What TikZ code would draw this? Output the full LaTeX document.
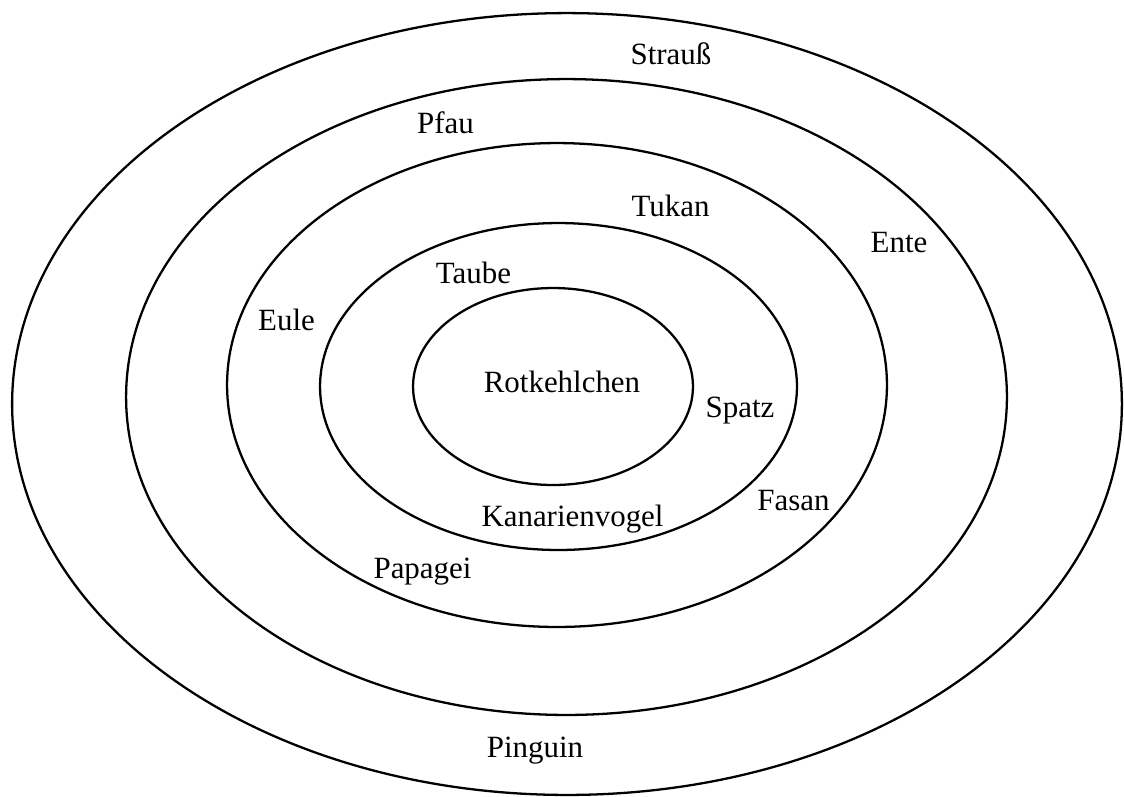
\documentclass[tikz,border=0pt]{standalone}
\usepackage{fontspec}
\setmainfont{Liberation Serif}
\usetikzlibrary{positioning}

\begin{document}
\begin{tikzpicture}[x=0.02cm,y=-0.02cm,
ring/.style={line width=1.3pt},
bird/.style={anchor=base,inner sep=0pt,font=\fontsize{17.6pt}{20pt}\selectfont}]
\useasboundingbox (0,0) rectangle (1124,796);
\draw[ring](567,404) ellipse [x radius=11.1cm, y radius=7.82cm];
\draw[ring](566.5,397) ellipse [x radius=8.81cm, y radius=6.36cm];
\draw[ring](557,385) ellipse [x radius=6.6cm, y radius=4.84cm];
\draw[ring](558.5,386.5) ellipse [x radius=4.77cm, y radius=3.27cm];
\draw[ring](553,386.5) ellipse [x radius=2.8cm, y radius=1.97cm];
\node[bird](strauss) at (671,64) {Strauß};
\node[bird](pfau) at (445.5,133) {Pfau};
\node[bird](tukan) at (670.5,216) {Tukan};
\node[bird](ente) at (899,252) {Ente};
\node[bird](taube) at (473.5,283) {Taube};
\node[bird](eule) at (286.5,330) {Eule};
\node[bird](rotkehlchen) at (562,392) {Rotkehlchen};
\node[bird](spatz) at (740,417) {Spatz};
\node[bird](fasan) at (793.5,510) {Fasan};
\node[bird](kanarienvogel) at (572.5,526) {Kanarienvogel};
\node[bird](papagei) at (422.5,578) {Papagei};
\node[bird](pinguin) at (535,757) {Pinguin};
\end{tikzpicture}
\end{document}
